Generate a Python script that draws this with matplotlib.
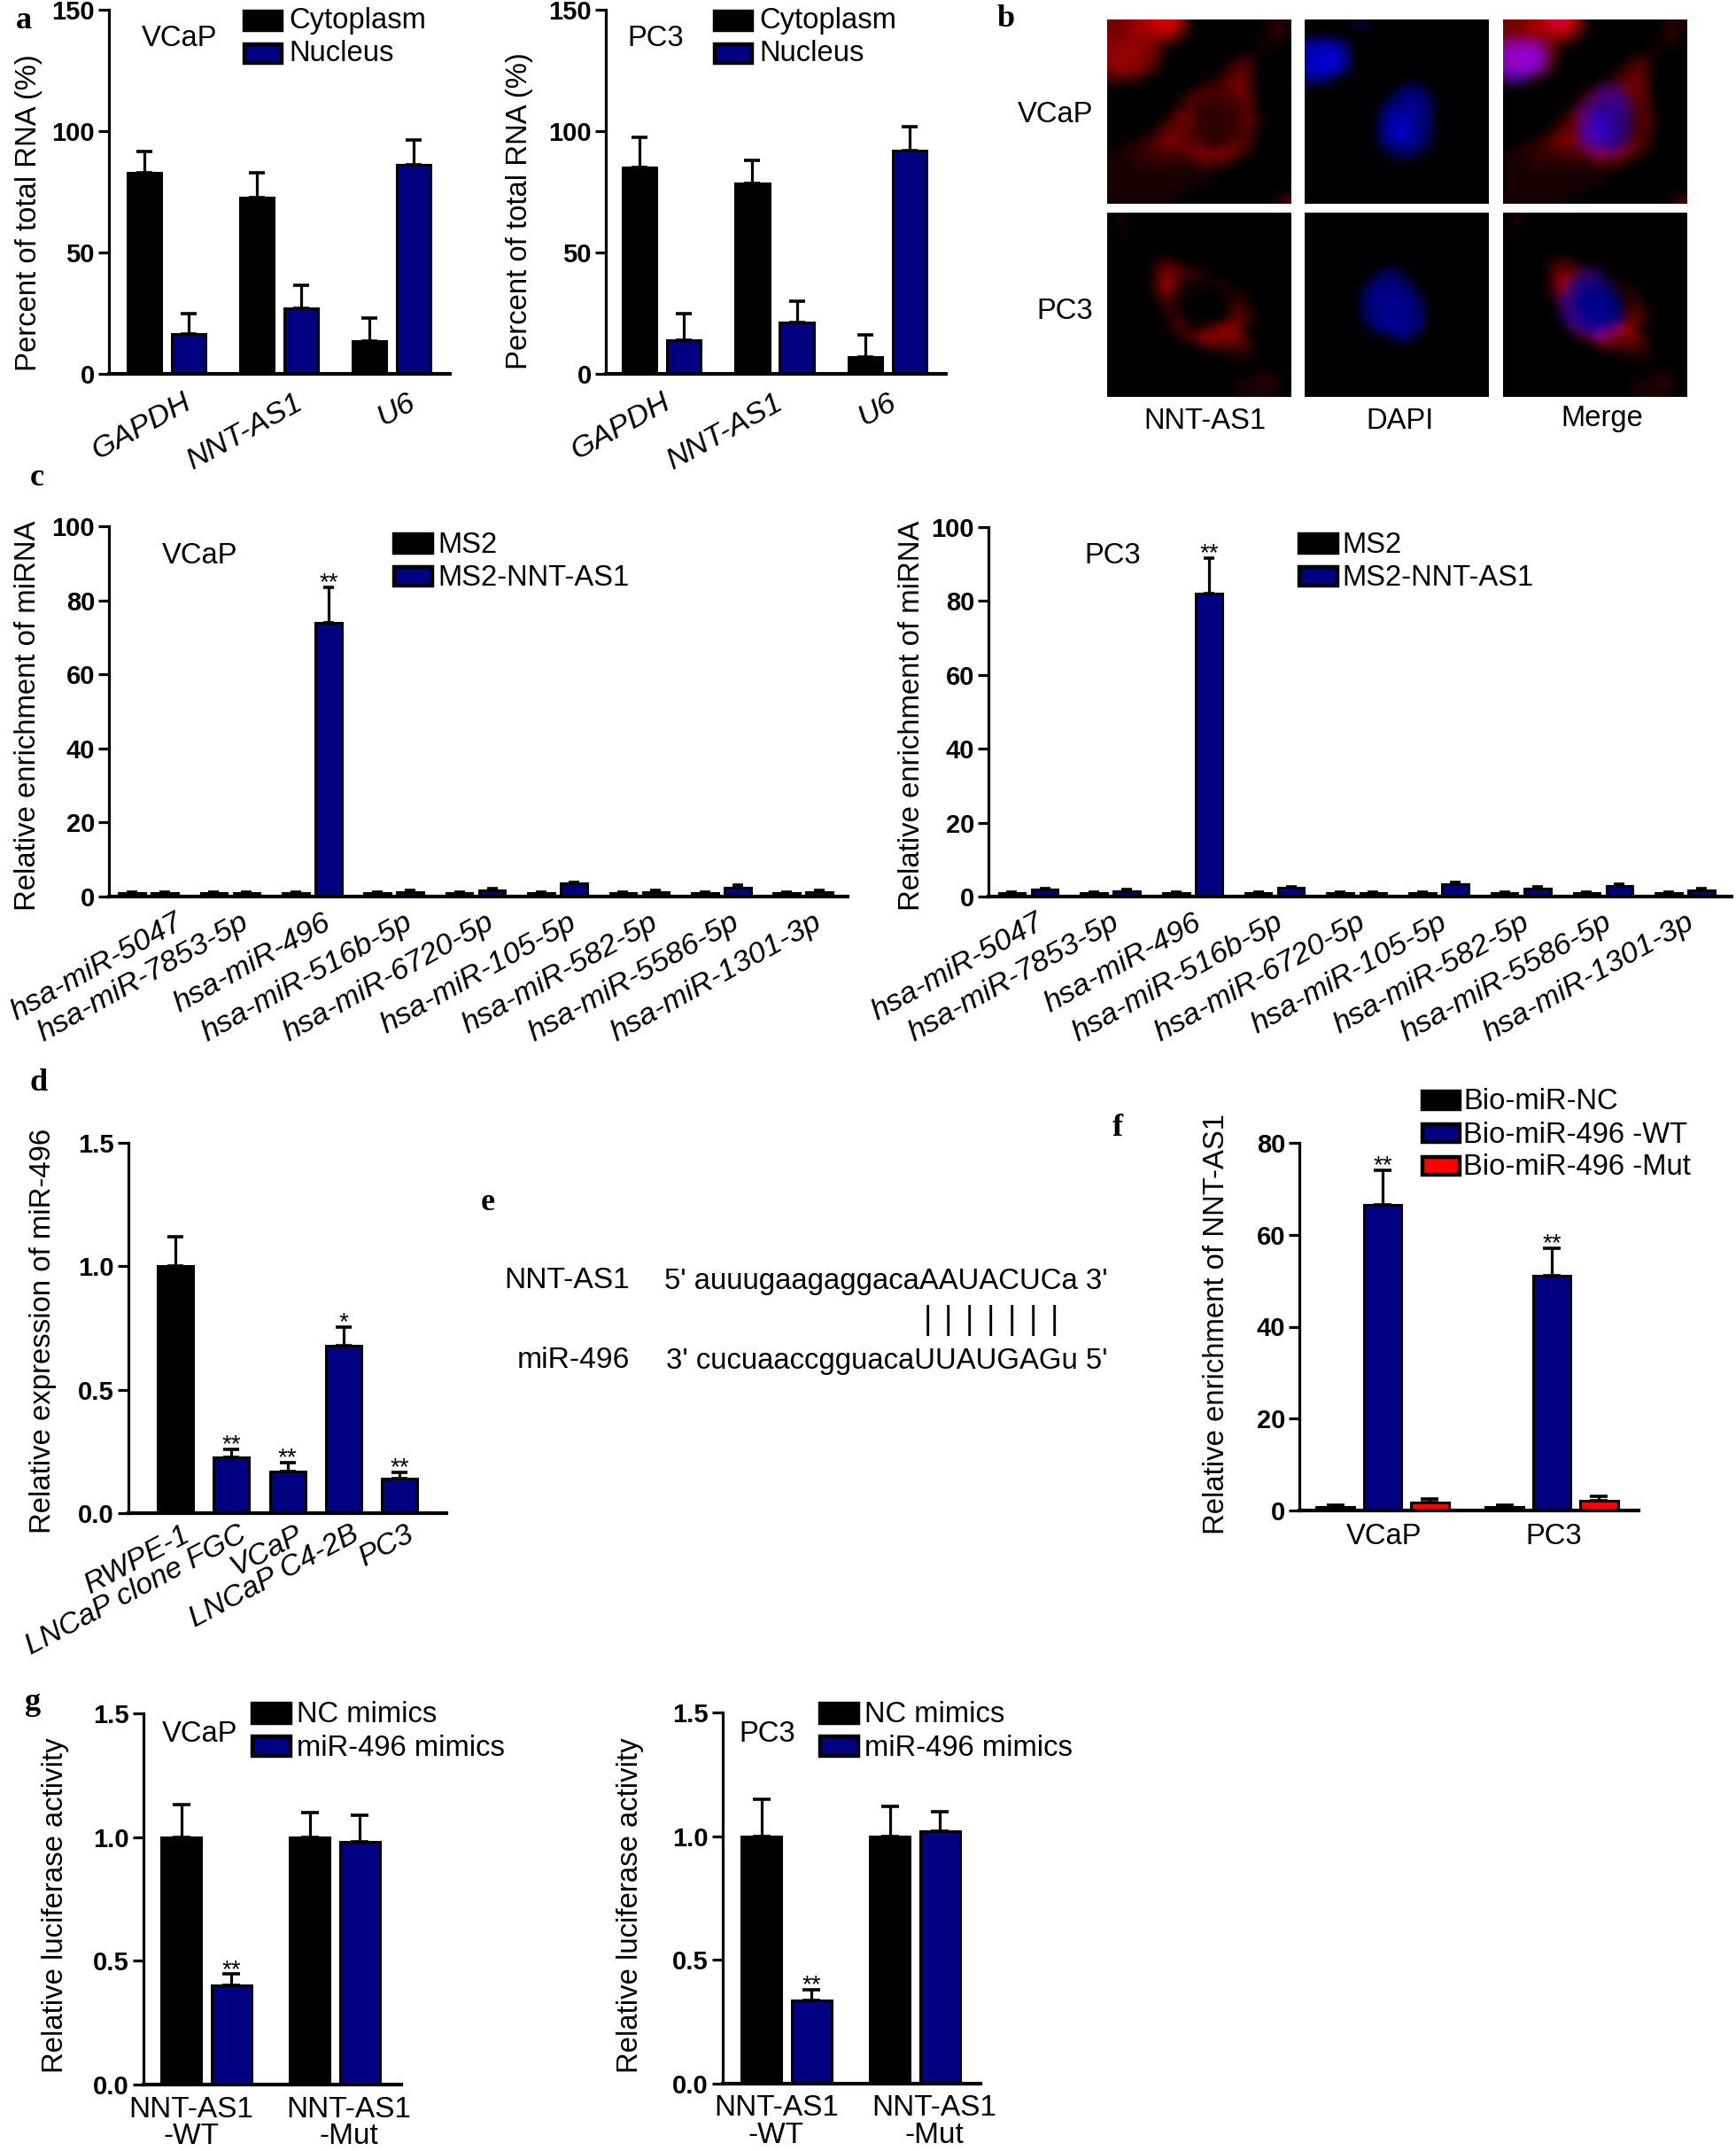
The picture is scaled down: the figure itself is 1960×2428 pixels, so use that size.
import numpy as np
import matplotlib
matplotlib.use("Agg")
import matplotlib.pyplot as plt
from matplotlib.patches import Rectangle

W, H = 1960, 2428
plt.rcParams['font.family'] = ['Liberation Sans', 'DejaVu Sans']
NAVY = "#000080"
RED = "#ff0000"
BLACK = "#000000"

# panel a
rna_genes = ["GAPDH", "NNT-AS1", "U6"]
a_vcap_cyto = [83, 72.5, 13.5]
a_vcap_cyto_err = [8.5, 10.5, 9.5]
a_vcap_nuc = [16.5, 27, 86]
a_vcap_nuc_err = [8.5, 9.5, 10.5]
a_pc3_cyto = [85, 78.5, 7]
a_pc3_cyto_err = [12.5, 9.5, 9]
a_pc3_nuc = [14, 21, 92]
a_pc3_nuc_err = [11, 9, 10]

# panel b, coarse intensities (0-9)
red_vcap = ["55678999400000000121",
            "55676886200000000121",
            "66666431000000001110",
            "66765400000000001000",
            "67665300000001330000",
            "56654100000013430000",
            "33220000000134530000",
            "00000000013335530000",
            "00000000243333440000",
            "00000001332223340000",
            "00000014532222341000",
            "00000134432222341000",
            "00001355432222330000",
            "00123455443224430000",
            "11222333456565310000",
            "11122222224331000000",
            "11111111111100000000",
            "11111111111000000000",
            "11111111100000000000",
            "11111110000000000013"]
blue_vcap = ["00000220000000000000",
             "00000000000000000000",
             "56652000000000000000",
             "78885000000000000000",
             "78885000000000000000",
             "78873000000000000000",
             "55400000000000000000",
             "00000000003440000000",
             "00000000035553000000",
             "00000000355654000000",
             "00000000467654000000",
             "00000000578654000000",
             "00000000578753000000",
             "00000000456552000000",
             "00000000034420000000",
             "00000000000000000000",
             "00000000000000000000",
             "00000000000000000000",
             "00000000000000000000",
             "00000000000000000000"]
red_pc3 = ["01000000000000000000",
           "01000000000000000000",
           "00000000000000000000",
           "00000000000000000000",
           "00000000000000000000",
           "00000232000000000000",
           "00000344321000000000",
           "00000373111110000000",
           "00000352100011100000",
           "00000131000001200000",
           "00000022000002310000",
           "00000012100003420000",
           "00000003212366300000",
           "00000000337555410000",
           "00000000002333320000",
           "00000000000001110000",
           "00000000000000000000",
           "00000000000000001100",
           "00000000000000111210",
           "00000000000000111100"]
blue_pc3 = ["00000000000000000000",
            "00000000000000000000",
            "00000000000000000000",
            "00000000000000000000",
            "00000000000000000000",
            "00000000000000000000",
            "00000000342000000000",
            "00000004554200000000",
            "00000035555410000000",
            "00000045656530000000",
            "00000045566540000000",
            "00000035655550000000",
            "00000004566540000000",
            "00000000035300000000",
            "00000000000000000000",
            "00000000000000000000",
            "00000000000000000000",
            "00000000000000000000",
            "00000000000000000000",
            "00000000000000000000"]

# panel c
mirnas = ["hsa-miR-5047", "hsa-miR-7853-5p", "hsa-miR-496", "hsa-miR-516b-5p", "hsa-miR-6720-5p",
          "hsa-miR-105-5p", "hsa-miR-582-5p", "hsa-miR-5586-5p", "hsa-miR-1301-3p"]
c_ms2 = [1, 1, 1, 1, 1, 1, 1, 1, 1]
c_ms2_err = [0.2, 0.2, 0.2, 0.2, 0.2, 0.2, 0.2, 0.2, 0.2]
c_vcap_nnt = [1.0, 1.0, 74, 1.2, 1.7, 3.5, 1.3, 2.5, 1.3]
c_vcap_nnt_err = [0.3, 0.3, 9.5, 0.4, 0.4, 0.4, 0.4, 0.5, 0.4]
c_pc3_nnt = [1.8, 1.5, 82, 2.3, 1.0, 3.3, 2.2, 2.9, 1.7]
c_pc3_nnt_err = [0.4, 0.4, 9.7, 0.4, 0.2, 0.5, 0.4, 0.5, 0.4]

# panel d
d_lines = ["RWPE-1", "LNCaP clone FGC", "VCaP", "LNCaP C4-2B", "PC3"]
d_values = [1.0, 0.225, 0.17, 0.68, 0.14]
d_err = [0.12, 0.035, 0.035, 0.075, 0.025]
d_stars = ["", "**", "**", "*", "**"]

# panel f
f_lines = ["VCaP", "PC3"]
f_nc = [0.8, 0.8]
f_nc_err = [0.4, 0.4]
f_wt = [66.5, 51]
f_wt_err = [7.5, 6]
f_mut = [1.7, 2.1]
f_mut_err = [0.8, 0.9]

# panel g
g_groups = ["NNT-AS1\n-WT", "NNT-AS1\n-Mut"]
g_vcap_nc = [1.0, 1.0]
g_vcap_nc_err = [0.13, 0.10]
g_vcap_mim = [0.40, 0.98]
g_vcap_mim_err = [0.046, 0.11]
g_pc3_nc = [1.0, 1.0]
g_pc3_nc_err = [0.15, 0.12]
g_pc3_mim = [0.336, 1.02]
g_pc3_mim_err = [0.043, 0.08]

fig = plt.figure(figsize=(W / 100, H / 100), dpi=100, facecolor="white")


def fx(x):
    return x / W


def fy(y):
    return 1 - y / H


def make_axes(left, top, right, bottom, c0, unit, ymax, yticks, ylabels):
    ax = fig.add_axes([fx(left), fy(bottom), (right - left) / W, (bottom - top) / H])
    ax.set_xlim((left - c0) / unit, (right - c0) / unit)
    ax.set_ylim(0, ymax)
    ax.patch.set_alpha(0)
    for s in ["top", "right"]:
        ax.spines[s].set_visible(False)
    ax.spines["left"].set_linewidth(2.3)
    ax.spines["bottom"].set_linewidth(3.0)
    ax.set_yticks(yticks)
    ax.set_yticklabels(ylabels, fontweight="bold", fontsize=21)
    ax.tick_params(axis="y", length=8.5, width=2.3, pad=3)
    ax.tick_params(axis="x", length=0)
    return ax


def bars(ax, x, values, errs, colors, width, capsize):
    ax.bar(x, values, width=width, color=colors, edgecolor=BLACK, linewidth=2.2, zorder=2)
    lows = np.zeros(len(values))
    ax.errorbar(x, values, yerr=[lows, errs], fmt="none", ecolor=BLACK, elinewidth=2.3,
                capsize=capsize, capthick=2.6, zorder=1)


def stars(ax, x, tops, labels, dy=-6):
    for xi, top, lab in zip(x, tops, labels):
        ax.annotate(lab, (xi, top), xytext=(0, dy), textcoords="offset points", ha="center",
                    va="bottom", fontsize=20)


def x_labels(ax, pos, labels, rotation, pad=6, fontsize=24.8):
    ax.set_xticks(pos)
    if rotation:
        ax.set_xticklabels(labels, rotation=rotation, ha="right", va="top",
                           rotation_mode="anchor", style="italic", fontsize=fontsize)
    else:
        ax.set_xticklabels(labels, fontsize=fontsize, linespacing=0.98)
    ax.tick_params(axis="x", pad=pad)


def ptext(x, y, s, ha="left", va="center", **kw):
    kw.setdefault("fontsize", 23.6)
    fig.text(fx(x), fy(y), s, ha=ha, va=va, **kw)


def ylab(x, y_mid, s, fontsize=23.7):
    fig.text(fx(x), fy(y_mid), s, rotation=90, ha="center", va="center", fontsize=fontsize)


def legend(x0, x1, tops, h, names, colors, tx, lw=3.2, dy=2):
    for top, name, col in zip(tops, names, colors):
        fig.add_artist(Rectangle((fx(x0), fy(top + h)), (x1 - x0) / W, h / H, facecolor=col,
                                 edgecolor=BLACK, linewidth=lw, transform=fig.transFigure))
        ptext(tx, top + h / 2 + dy, name)


def panel_letter(x, y, s):
    fig.text(fx(x), fy(y), s, family="Liberation Serif", fontweight="bold", fontsize=26,
             ha="left", va="center")


# ---- panel a
a_idx = np.arange(len(rna_genes))
ax = make_axes(123, 11, 508, 422, 188, 127, 150, [0, 50, 100, 150], ["0", "50", "100", "150"])
bars(ax, a_idx - 0.197, a_vcap_cyto, a_vcap_cyto_err, BLACK, 0.3, 6.8)
bars(ax, a_idx + 0.197, a_vcap_nuc, a_vcap_nuc_err, NAVY, 0.3, 6.8)
x_labels(ax, a_idx + 0.14, rna_genes, 29, pad=12)

ax = make_axes(684, 11, 1068, 422, 747, 127.5, 150, [0, 50, 100, 150], ["0", "50", "100", "150"])
bars(ax, a_idx - 0.197, a_pc3_cyto, a_pc3_cyto_err, BLACK, 0.3, 6.8)
bars(ax, a_idx + 0.197, a_pc3_nuc, a_pc3_nuc_err, NAVY, 0.3, 6.8)
x_labels(ax, a_idx + 0.0, rna_genes, 29, pad=12)

ylab(33, 240, "Percent of total RNA (%)")
ylab(586, 238, "Percent of total RNA (%)")
ptext(160, 44, "VCaP")
ptext(708, 44, "PC3")
legend(276, 318, [13, 50], 21, ["Cytoplasm", "Nucleus"], [BLACK, NAVY], 326, dy=0)
legend(807, 849, [13, 50], 21, ["Cytoplasm", "Nucleus"], [BLACK, NAVY], 857, dy=0)


# ---- panel b
def to_grid(rows, top):
    return np.array([[int(c) for c in r] for r in rows], dtype=float) / top


def micrograph(left, top, r, b):
    ax = fig.add_axes([fx(left), fy(top + 208), 208 / W, 208 / H])
    rgb = np.dstack([r, np.zeros_like(r), b])
    ax.imshow(np.clip(rgb, 0, 1), aspect="auto", interpolation="bicubic")
    ax.axis("off")


rv, bv = to_grid(red_vcap, 11), to_grid(blue_vcap, 10)
rp, bp = to_grid(red_pc3, 10), to_grid(blue_pc3, 10)
empty = np.zeros_like(rv)
micrograph(1250, 22, rv, empty)
micrograph(1473, 22, empty, bv)
micrograph(1697, 22, rv, bv)
micrograph(1250, 240, rp, empty)
micrograph(1473, 240, empty, bp)
micrograph(1697, 240, rp, bp)
ptext(1234, 130, "VCaP", ha="right")
ptext(1234, 352, "PC3", ha="right")
ptext(1360, 476, "NNT-AS1", ha="center")
ptext(1580, 476, "DAPI", ha="center")
ptext(1809, 473, "Merge", ha="center")

# ---- panel c
c_idx = np.arange(len(mirnas))
c_ticks = [0, 20, 40, 60, 80, 100]
c_tl = ["0", "20", "40", "60", "80", "100"]
ax = make_axes(123, 594, 957, 1012, 167.5, 92.4, 100, c_ticks, c_tl)
bars(ax, c_idx - 0.2, c_ms2, c_ms2_err, BLACK, 0.32, 4.5)
bars(ax, c_idx + 0.2, c_vcap_nnt, c_vcap_nnt_err, NAVY, 0.32, 4.5)
stars(ax, c_idx[2:3] + 0.2, [83.5], ["**"])
# the first label sits further right than the rest in the reference
c_pos = c_idx + 0.12
c_pos[0] += 0.2
x_labels(ax, c_pos, mirnas, 29, pad=10)

ax = make_axes(1116, 595, 1955, 1012, 1161, 92.7, 100, c_ticks, c_tl)
bars(ax, c_idx - 0.2, c_ms2, c_ms2_err, BLACK, 0.32, 4.5)
bars(ax, c_idx + 0.2, c_pc3_nnt, c_pc3_nnt_err, NAVY, 0.32, 4.5)
stars(ax, c_idx[2:3] + 0.2, [91.7], ["**"])
c_pos = c_idx + 0.0
c_pos[0] += 0.08
x_labels(ax, c_pos, mirnas, 29, pad=10)

ylab(32, 808, "Relative enrichment of miRNA")
ylab(1029, 808, "Relative enrichment of miRNA")
ptext(183, 628, "VCaP")
ptext(1224, 628, "PC3")
legend(445, 488, [603, 640], 21, ["MS2", "MS2-NNT-AS1"], [BLACK, NAVY], 494)
legend(1467, 1510, [603, 640], 21, ["MS2", "MS2-NNT-AS1"], [BLACK, NAVY], 1515)

# ---- panel d
d_idx = np.arange(len(d_lines))
ax = make_axes(145, 1290, 504, 1708, 198, 63.3, 1.5, [0, 0.5, 1.0, 1.5], ["0.0", "0.5", "1.0", "1.5"])
bars(ax, d_idx, d_values, d_err, [BLACK] + [NAVY] * 4, 0.63, 6.5)
stars(ax, d_idx, np.array(d_values) + np.array(d_err), d_stars)
x_labels(ax, d_idx + 0.12, d_lines, 28, pad=6, fontsize=24.2)
ylab(49, 1502, "Relative expression of miR-496")

# ---- panel e
ptext(711, 1446, "NNT-AS1", ha="right", fontsize=24.2)
ptext(750, 1446, "5' auuugaagaggacaAAUACUCa 3'", fontsize=23.7)
ptext(711, 1536, "miR-496", ha="right", fontsize=24.2)
ptext(752, 1536, "3' cucuaaccgguacaUUAUGAGu 5'", fontsize=23.7)
e_pairs = 7
for i in range(e_pairs):
    ptext(1047 + i * 23.9, 1491, "|", ha="center", fontsize=26)

# ---- panel f
f_idx = np.arange(len(f_lines))
ax = make_axes(1467, 1290, 1850, 1705, 1561, 191, 80, [0, 20, 40, 60, 80], ["0", "20", "40", "60", "80"])
bars(ax, f_idx - 0.28, f_nc, f_nc_err, BLACK, 0.225, 7.5)
bars(ax, f_idx, f_wt, f_wt_err, NAVY, 0.225, 7.5)
bars(ax, f_idx + 0.28, f_mut, f_mut_err, RED, 0.225, 7.5)
stars(ax, f_idx, np.array(f_wt) + np.array(f_wt_err), ["**", "**"])
x_labels(ax, f_idx + 0.01, f_lines, 0, pad=10, fontsize=23.6)
ylab(1374, 1494, "Relative enrichment of NNT-AS1")
legend(1606, 1648, [1232, 1269, 1306], 20, ["Bio-miR-NC", "Bio-miR-496 -WT", "Bio-miR-496 -Mut"],
       [BLACK, NAVY, RED], 1652)

# ---- panel g
g_idx = np.arange(len(g_groups))
g_ticks = [0, 0.5, 1.0, 1.5]
g_tl = ["0.0", "0.5", "1.0", "1.5"]
ax = make_axes(162, 1934, 453, 2353, 233, 145, 1.5, g_ticks, g_tl)
bars(ax, g_idx - 0.195, g_vcap_nc, g_vcap_nc_err, BLACK, 0.31, 7.5)
bars(ax, g_idx + 0.195, g_vcap_mim, g_vcap_mim_err, NAVY, 0.31, 7.5)
stars(ax, g_idx[:1] + 0.195, [0.446], ["**"])
x_labels(ax, g_idx + np.array([-0.12, 0.11]), g_groups, 0, pad=9, fontsize=24)

ax = make_axes(816, 1933, 1107, 2352, 888, 145, 1.5, g_ticks, g_tl)
bars(ax, g_idx - 0.195, g_pc3_nc, g_pc3_nc_err, BLACK, 0.31, 7.5)
bars(ax, g_idx + 0.195, g_pc3_mim, g_pc3_mim_err, NAVY, 0.31, 7.5)
stars(ax, g_idx[:1] + 0.195, [0.379], ["**"])
x_labels(ax, g_idx + np.array([-0.08, 0.15]), g_groups, 0, pad=9, fontsize=24)

ylab(63, 2151, "Relative luciferase activity")
ylab(711, 2151, "Relative luciferase activity")
ptext(183, 1958, "VCaP")
ptext(834, 1958, "PC3")
legend(285, 328, [1923, 1960], 22, ["NC mimics", "miR-496 mimics"], [BLACK, NAVY], 335)
legend(926, 969, [1923, 1960], 22, ["NC mimics", "miR-496 mimics"], [BLACK, NAVY], 976)

# panel letters
panel_letter(18, 23, "a")
panel_letter(1126, 21, "b")
panel_letter(34, 539, "c")
panel_letter(33, 1222, "d")
panel_letter(543, 1357, "e")
panel_letter(1256, 1273, "f")
panel_letter(28, 1921, "g")

fig.savefig("out.png", dpi=100)
